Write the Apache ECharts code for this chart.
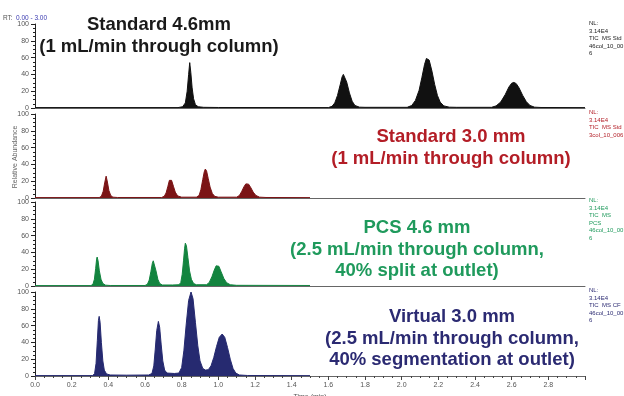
<!DOCTYPE html>
<html>
<head>
<meta charset="utf-8">
<script src="https://cdn.jsdelivr.net/npm/echarts@6/dist/echarts.min.js"></script>
<style>
  html, body { margin: 0; padding: 0; background: #fff; }
  #main { width: 624px; height: 396px; }
</style>
</head>
<body>
<div id="main"></div>
<script>
// 时间轴 (min)
var xMin = 0;
var xMax = 3;
var xTicks = ['0.0', '0.2', '0.4', '0.6', '0.8', '1.0', '1.2', '1.4', '1.6', '1.8', '2.0', '2.2', '2.4', '2.6', '2.8'];
var yTicks = [0, 20, 40, 60, 80, 100];

// Standard 4.6mm  [time, relative abundance]
var trace1 = [[0, 0.5], [0.78, 0.5], [0.805, 1.5], [0.82, 6], [0.83, 20], [0.838, 40], [0.844, 54], [0.85, 42],
  [0.857, 24], [0.865, 11], [0.875, 4], [0.89, 1.5], [0.92, 0.8], [1.0, 0.6], [1.6, 0.5], [1.62, 2], [1.635, 6],
  [1.65, 15], [1.665, 28], [1.675, 37], [1.682, 40], [1.69, 38], [1.7, 31], [1.715, 18], [1.73, 8], [1.745, 3],
  [1.77, 1], [1.8, 0.8], [2.03, 0.8], [2.055, 3], [2.075, 9], [2.095, 21], [2.11, 36], [2.125, 52], [2.135, 59],
  [2.141, 60], [2.15, 57], [2.165, 44], [2.18, 28], [2.195, 15], [2.21, 7], [2.23, 2.5], [2.26, 1], [2.3, 0.8],
  [2.49, 0.8], [2.515, 2.5], [2.54, 7], [2.565, 16], [2.585, 25], [2.6, 29.5], [2.612, 30.5], [2.625, 29], [2.64, 24],
  [2.66, 15], [2.68, 7.5], [2.7, 3], [2.725, 1], [2.76, 0.6], [3.0, 0.5]];

// Standard 3.0 mm
var trace2 = [[0, 0.5], [0.35, 0.5], [0.362, 2], [0.372, 8], [0.38, 18], [0.388, 26], [0.395, 19], [0.403, 9],
  [0.413, 3], [0.425, 1], [0.45, 0.6], [0.69, 0.6], [0.705, 2], [0.715, 6], [0.725, 14], [0.733, 21], [0.738, 22.6],
  [0.745, 21], [0.755, 14], [0.765, 7], [0.778, 2.5], [0.8, 1], [0.88, 1], [0.895, 3], [0.905, 10], [0.915, 22],
  [0.923, 31], [0.929, 34.5], [0.936, 32], [0.945, 23], [0.955, 13], [0.967, 5.5], [0.98, 2], [1.0, 1], [1.1, 1],
  [1.115, 3], [1.128, 8], [1.14, 13.5], [1.15, 16.8], [1.157, 17.5], [1.165, 16.5], [1.178, 12], [1.19, 7],
  [1.205, 3], [1.225, 1], [1.26, 0.6], [1.5, 0.5]];

// PCS 4.6 mm
var trace3 = [[0, 0.5], [0.305, 0.5], [0.316, 2], [0.324, 8], [0.331, 21], [0.336, 32], [0.339, 34.5], [0.344, 30],
  [0.351, 18], [0.36, 8], [0.37, 3], [0.385, 1], [0.41, 0.6], [0.6, 0.6], [0.613, 2], [0.623, 7], [0.632, 17],
  [0.64, 27], [0.645, 30], [0.651, 28], [0.66, 18], [0.67, 8], [0.68, 3], [0.695, 1.2], [0.75, 1.2], [0.785, 1.5],
  [0.795, 4], [0.803, 14], [0.81, 30], [0.816, 45], [0.82, 51], [0.826, 48], [0.834, 34], [0.843, 18], [0.853, 8],
  [0.865, 3], [0.88, 1.5], [0.935, 1.5], [0.95, 4], [0.965, 11], [0.978, 19], [0.988, 24], [0.995, 25], [1.003, 23.5],
  [1.015, 17], [1.03, 9], [1.045, 4], [1.065, 1.5], [1.1, 0.8], [1.5, 0.6]];

// Virtual 3.0 mm
var trace4 = [[0, 0.5], [0.315, 0.5], [0.325, 3], [0.333, 15], [0.34, 42], [0.346, 66], [0.35, 71], [0.355, 64],
  [0.362, 40], [0.37, 18], [0.378, 7], [0.39, 2.5], [0.41, 1.2], [0.5, 1], [0.62, 1.2], [0.638, 3], [0.648, 12],
  [0.656, 32], [0.664, 54], [0.673, 65], [0.68, 58], [0.688, 38], [0.697, 18], [0.707, 7], [0.72, 3.5], [0.76, 3],
  [0.785, 3.5], [0.8, 10], [0.812, 30], [0.825, 62], [0.838, 90], [0.851, 100], [0.862, 92], [0.875, 64],
  [0.888, 36], [0.9, 18], [0.915, 9], [0.93, 7], [0.945, 7.5], [0.96, 12], [0.975, 22], [0.99, 35], [1.005, 46],
  [1.021, 50], [1.035, 46], [1.05, 34], [1.065, 20], [1.08, 9], [1.095, 3.5], [1.115, 1.2], [1.16, 0.6], [1.5, 0.5]];

var traces = [trace1, trace2, trace3, trace4];
var traceColors = ['#111111', '#7b1416', '#13843f', '#262a70'];
var titleColors = ['#1a1a1a', '#b31d26', '#1f9a5c', '#2b2a72'];

var titles = [
  ['Standard 4.6mm', '(1 mL/min through column)'],
  ['Standard 3.0 mm', '(1 mL/min through column)'],
  ['PCS 4.6 mm', '(2.5 mL/min through column,', '40% split at outlet)'],
  ['Virtual 3.0 mm', '(2.5 mL/min through column,', '40% segmentation at outlet)']
];
var notes = [
  'NL:\n3.14E4\nTIC  MS Std\n46col_10_00\n6',
  'NL:\n3.14E4\nTIC  MS Std\n3col_10_006',
  'NL:\n3.14E4\nTIC  MS\nPCS\n46col_10_00\n6',
  'NL:\n3.14E4\nTIC  MS CF\n46col_10_00\n6'
];

//面板位置
var gridTops = [24, 114, 202, 292];
var gridH = 84;
var titleCenters = [[159, 25], [451, 137], [417, 228], [452, 317]];
var noteTops = [20, 109, 197, 287];
var font = "'Liberation Sans', Arial, sans-serif";

var grids = [], xAxes = [], yAxes = [], series = [], graphics = [];

for (var i = 0; i < 4; i++) {
  var last = (i == 3);
  grids.push({ left: 35, width: 550, top: gridTops[i], height: gridH, containLabel: false, outerBoundsMode: 'none' });
  xAxes.push({
    type: 'value',
    gridIndex: i,
    min: xMin,
    max: xMax,
    interval: 0.2,
    axisLine: { show: true, onZero: false, lineStyle: { color: '#666', width: 1 } },
    axisTick: { show: last, length: 4, lineStyle: { color: '#444' } },
    minorTick: { show: last, splitNumber: 4, length: 2, lineStyle: { color: '#444' } },
    splitLine: { show: false },
    axisLabel: {
      show: last,
      fontSize: 7,
      color: '#555',
      margin: 6,
      fontFamily: font,
      showMaxLabel: false,
      formatter: function(v) {
        var s = v.toFixed(1);
        return xTicks.indexOf(s) != -1 ? s : '';
      }
    },
    name: last ? 'Time (min)' : '',
    nameLocation: 'middle',
    nameGap: 18,
    nameTextStyle: { fontSize: 7, color: '#555', fontFamily: font }
  });
  yAxes.push({
    type: 'value',
    gridIndex: i,
    min: yTicks[0],
    max: yTicks[yTicks.length - 1],
    interval: 20,
    axisLine: { show: true, lineStyle: { color: '#222', width: 1 } },
    axisTick: { show: true, length: 4, lineStyle: { color: '#222' } },
    minorTick: { show: true, splitNumber: 4, length: 2, lineStyle: { color: '#222' } },
    splitLine: { show: false },
    axisLabel: { fontSize: 7, color: '#555', margin: 6, fontFamily: font }
  });
  series.push({
    type: 'line',
    xAxisIndex: i,
    yAxisIndex: i,
    data: traces[i],
    showSymbol: false,
    symbol: 'none',
    silent: true,
    lineStyle: { color: traceColors[i], width: 1 },
    areaStyle: { color: traceColors[i], opacity: 1 }
  });

  // 标题
  var tl = titles[i];
  for (var j = 0; j < tl.length; j++) {
    graphics.push({
      type: 'text',
      x: titleCenters[i][0],
      y: titleCenters[i][1] + j * 21.5,
      style: {
        text: tl[j],
        fill: titleColors[i],
        font: 'bold 18.5px ' + font,
        align: 'center',
        verticalAlign: 'middle'
      }
    });
  }
  // 右侧注释
  graphics.push({
    type: 'text',
    left: 589,
    top: noteTops[i],
    style: {
      text: notes[i],
      fill: i == 0 ? '#222' : titleColors[i],
      font: '6px ' + font,
      lineHeight: 7.5
    }
  });
}

graphics.push({
  type: 'text',
  left: 3,
  top: 12,
  style: {
    text: '{a|RT:} {b|0.00 - 3.00}',
    rich: {
      a: { fill: '#555', font: '6.5px ' + font },
      b: { fill: '#3a3ab0', font: '6.5px ' + font }
    }
  }
});
graphics.push({
  type: 'text',
  x: 15,
  y: 157,
  rotation: Math.PI / 2,
  style: {
    text: 'Relative Abundance',
    fill: '#666',
    font: '7px ' + font,
    align: 'center',
    verticalAlign: 'middle'
  }
});

var myChart = echarts.init(document.getElementById('main'));
myChart.setOption({
  animation: false,
  backgroundColor: '#fff',
  grid: grids,
  xAxis: xAxes,
  yAxis: yAxes,
  series: series,
  graphic: graphics
});
</script>
</body>
</html>
